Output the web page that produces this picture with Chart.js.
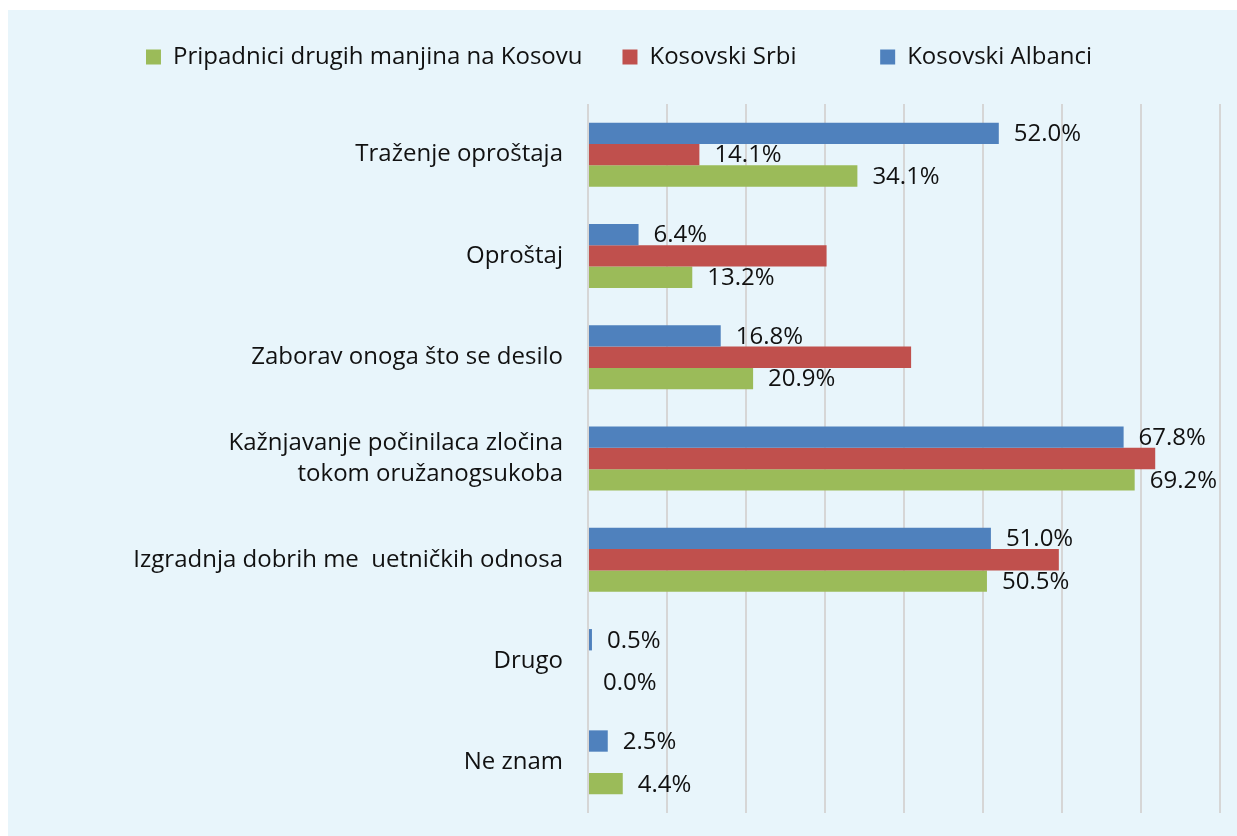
<!DOCTYPE html>
<html>
<head>
<meta charset="utf-8">
<script src="https://cdn.jsdelivr.net/npm/chart.js@4.4.1/dist/chart.umd.min.js"></script>
<style>
  html, body { margin: 0; padding: 0; background: #ffffff; }
  #wrap { position: absolute; left: 8px; top: 10px; width: 1229px; height: 826px; background: #E8F5FB; }
  canvas { display: block; }
</style>
</head>
<body>
<div id="wrap"><canvas id="c" width="1229" height="826"></canvas></div>
<script>
// ---- data ----
const categories = [
  'Traženje oproštaja',
  'Oproštaj',
  'Zaborav onoga što se desilo',
  ['Kažnjavanje počinilaca zločina', 'tokom oružanogsukoba'],
  'Izgradnja dobrih me  uetničkih odnosa',
  'Drugo',
  'Ne znam'
];
const seriesNames = ['Kosovski Albanci', 'Kosovski Srbi', 'Pripadnici drugih manjina na Kosovu'];
const albanci = [52.0, 6.4, 16.8, 67.8, 51.0, 0.5, 2.5];
const srbi    = [14.1, 30.2, 40.9, 71.8, 59.6, 0.0, 0.0];
const manjine = [34.1, 13.2, 20.9, 69.2, 50.5, 0.0, 4.4];
const albanciLabelShown = [true, true, true, true, true, true, true];
const srbiLabelShown    = [true, false, false, false, false, false, false];
const manjineLabelShown = [true, true, true, true, true, true, true];
const xTicks = [0, 10, 20, 30, 40, 50, 60, 70, 80];

// ---- styling ----
const FONT = "'Open Sans', sans-serif";
Chart.defaults.font.family = FONT;
Chart.defaults.font.size = 24;
Chart.defaults.color = '#111111';

const labelShown = [albanciLabelShown, srbiLabelShown, manjineLabelShown];
// extra trailing gap after some legend entries (Excel-like uneven spacing)
const legendTrailingGap = [0, 7, 0];

const valueLabels = {
  id: 'valueLabels',
  afterDatasetsDraw(chart) {
    const ctx = chart.ctx;
    ctx.save();
    ctx.font = "24px " + FONT;
    ctx.fillStyle = '#111111';
    ctx.textAlign = 'left';
    ctx.textBaseline = 'middle';
    chart.data.datasets.forEach((ds, di) => {
      const meta = chart.getDatasetMeta(di);
      meta.data.forEach((bar, i) => {
        if (!labelShown[di][i]) return;
        ctx.fillText(ds.data[i].toFixed(1) + '%', bar.x + 15, bar.y + 1);
      });
    });
    ctx.restore();
  }
};

const LAYOUT_TOP = -5;
const LAYOUT_LEFT = 10;
const legendSpace = {
  id: 'legendSpace',
  afterInit(chart) {
    const lg = chart.legend;
    if (!lg) return;
    const orig = lg.fit;
    lg.fit = function () { orig.call(this); this.height = 94 - LAYOUT_TOP; };
  }
};

new Chart(document.getElementById('c'), {
  type: 'bar',
  data: {
    labels: categories,
    datasets: [
      { label: seriesNames[0], data: albanci, backgroundColor: '#4F81BD' },
      { label: seriesNames[1], data: srbi,    backgroundColor: '#C0504D' },
      { label: seriesNames[2], data: manjine, backgroundColor: '#9BBB59' }
    ]
  },
  options: {
    indexAxis: 'y',
    responsive: false,
    animation: false,
    devicePixelRatio: 1,
    categoryPercentage: 0.632,
    barPercentage: 1.0,
    layout: { padding: { top: LAYOUT_TOP, left: LAYOUT_LEFT, right: 17, bottom: 23 } },
    plugins: {
      legend: {
        position: 'top',
        reverse: true,
        labels: {
          boxWidth: 15,
          boxHeight: 15,
          padding: 40,
          color: '#111111',
          font: { size: 24, family: FONT },
          generateLabels(chart) {
            const items = Chart.defaults.plugins.legend.labels.generateLabels(chart);
            items.forEach(it => {
              const g = legendTrailingGap[it.datasetIndex] || 0;
              if (g) it.text = it.text + '\u00A0'.repeat(g);
            });
            return items;
          }
        }
      },
      tooltip: { enabled: false }
    },
    scales: {
      x: {
        position: 'bottom',
        min: xTicks[0],
        max: xTicks[xTicks.length - 1],
        ticks: { stepSize: xTicks[1] - xTicks[0], display: false },
        grid: { color: '#D6D6D6', lineWidth: 2, drawTicks: false },
        border: { display: false },
        afterFit(scale) { scale.height = 0; scale.paddingLeft = 0; scale.paddingRight = 0; }
      },
      y: {
        ticks: {
          padding: 25,
          color: '#111111',
          font: { size: 24, family: FONT, lineHeight: 1.3 }
        },
        grid: { display: false, drawTicks: false },
        border: { display: false },
        afterFit(scale) { scale.width = 580 - LAYOUT_LEFT; scale.paddingTop = 0; scale.paddingBottom = 0; }
      }
    }
  },
  plugins: [valueLabels, legendSpace]
});
</script>
</body>
</html>
